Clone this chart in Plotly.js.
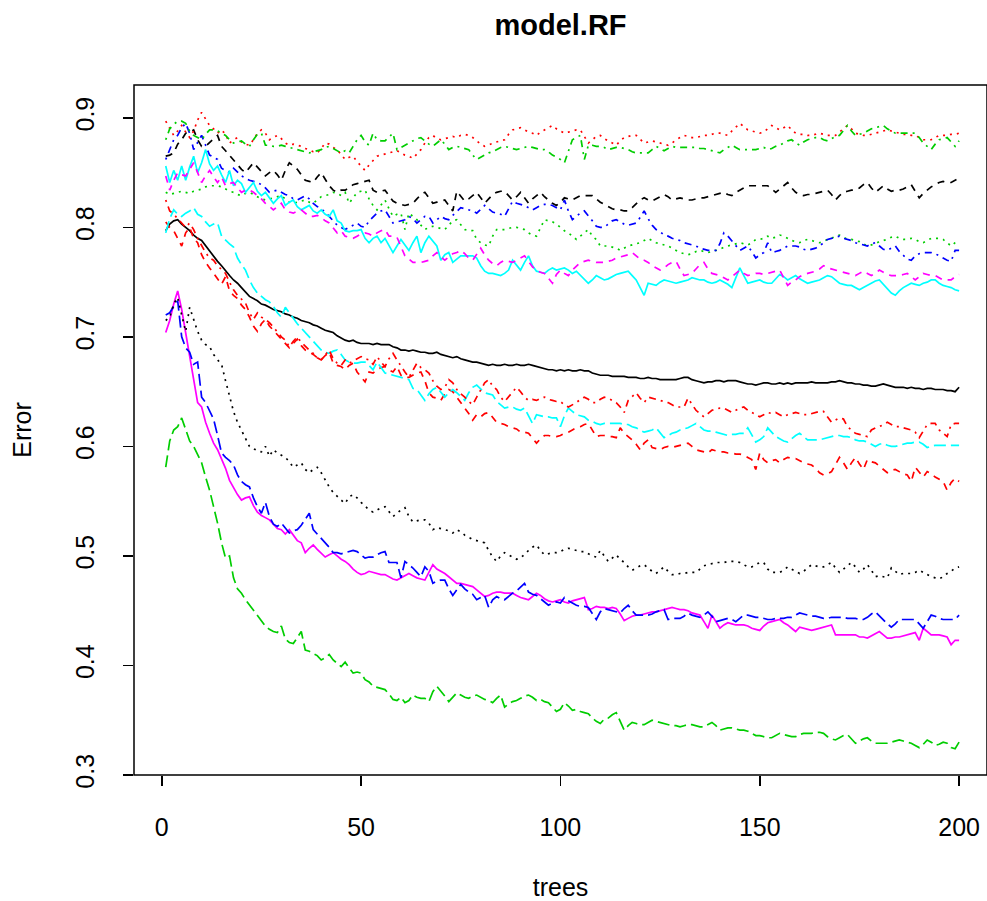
<!DOCTYPE html>
<html><head><meta charset="utf-8">
<script src="https://cdn.plot.ly/plotly-3.0.1.min.js"></script>
<style>html,body{margin:0;padding:0;background:#fff}#chart{width:987px;height:901px}</style>
</head><body><div id="chart"></div>
<script>
const trees = [1,2,3,4,5,6,7,8,9,10,11,12,13,14,15,16,17,18,19,20,
21,22,23,24,25,26,27,28,29,30,31,32,33,34,35,36,37,38,39,40,
41,42,43,44,45,46,47,48,49,50,51,52,53,54,55,56,57,58,59,60,
61,62,63,64,65,66,67,68,69,70,71,72,73,74,75,76,77,78,79,80,
81,82,83,84,85,86,87,88,89,90,91,92,93,94,95,96,97,98,99,100,
101,102,103,104,105,106,107,108,109,110,111,112,113,114,115,116,117,118,119,120,
121,122,123,124,125,126,127,128,129,130,131,132,133,134,135,136,137,138,139,140,
141,142,143,144,145,146,147,148,149,150,151,152,153,154,155,156,157,158,159,160,
161,162,163,164,165,166,167,168,169,170,171,172,173,174,175,176,177,178,179,180,
181,182,183,184,185,186,187,188,189,190,191,192,193,194,195,196,197,198,199,200];

const errOOB = [.797,.803,.806,.807,.803,.800,.797,.793,.790,.788,.783,.778,.773,.769,.765,.760,.756,.752,.749,.745,
.741,.737,.735,.733,.730,.729,.727,.725,.724,.723,.721,.720,.718,.717,.715,.714,.713,.711,.710,.708,
.706,.705,.704,.701,.699,.697,.696,.697,.695,.694,.694,.694,.693,.694,.693,.693,.693,.691,.690,.688,
.688,.687,.688,.687,.686,.686,.685,.685,.686,.684,.683,.682,.681,.682,.680,.679,.678,.677,.677,.676,
.675,.674,.675,.674,.674,.675,.674,.674,.675,.674,.674,.675,.674,.673,.672,.671,.670,.670,.669,.670,
.669,.670,.669,.669,.670,.669,.669,.667,.666,.665,.665,.665,.664,.664,.664,.664,.663,.663,.663,.662,
.662,.663,.662,.662,.661,.661,.661,.661,.661,.662,.663,.663,.661,.660,.659,.658,.659,.659,.660,.660,
.659,.660,.660,.660,.659,.658,.657,.657,.656,.657,.658,.658,.657,.657,.658,.657,.658,.657,.658,.658,
.658,.658,.659,.658,.658,.658,.658,.659,.659,.660,.659,.658,.658,.657,.657,.656,.656,.655,.655,.656,
.657,.656,.655,.654,.654,.654,.653,.654,.653,.653,.652,.653,.653,.652,.652,.652,.651,.651,.650,.654];

const errClass1 = [.805,.800,.797,.790,.783,.795,.800,.790,.786,.775,.768,.763,.758,.753,.748,.755,.742,.738,.735,.729,
.725,.718,.710,.705,.712,.716,.710,.706,.702,.699,.694,.690,.694,.698,.692,.688,.686,.684,.681,.679,
.683,.686,.676,.674,.673,.670,.674,.676,.668,.663,.659,.668,.667,.670,.672,.673,.670,.668,.673,.665,
.663,.663,.665,.667,.668,.660,.649,.645,.644,.642,.648,.652,.650,.645,.640,.636,.630,.624,.629,.627,
.630,.631,.626,.622,.621,.620,.618,.617,.616,.613,.613,.612,.608,.603,.607,.610,.610,.609,.609,.610,
.612,.613,.615,.617,.618,.620,.621,.615,.609,.610,.610,.609,.609,.608,.617,.612,.609,.606,.602,.597,
.603,.606,.599,.598,.597,.599,.600,.599,.600,.601,.602,.603,.600,.597,.596,.595,.594,.597,.596,.595,
.595,.594,.594,.593,.593,.592,.590,.588,.579,.594,.588,.585,.587,.588,.585,.588,.590,.589,.589,.587,
.585,.584,.583,.580,.576,.574,.575,.577,.583,.590,.585,.579,.585,.590,.584,.579,.588,.586,.585,.582,
.579,.576,.578,.579,.577,.575,.574,.568,.581,.576,.572,.577,.575,.572,.570,.568,.560,.567,.571,.568];

const errClass2 = [.832,.830,.831,.832,.833,.832,.831,.833,.834,.835,.837,.838,.838,.838,.837,.835,.833,.832,.830,.829,
.831,.832,.830,.828,.826,.825,.826,.827,.828,.829,.826,.823,.822,.823,.824,.825,.823,.822,.825,.828,
.829,.830,.832,.831,.829,.832,.822,.827,.832,.833,.834,.826,.820,.816,.820,.825,.817,.810,.812,.813,
.798,.813,.810,.807,.802,.798,.800,.801,.800,.799,.798,.802,.806,.807,.802,.798,.797,.797,.789,.786,
.784,.783,.792,.798,.798,.798,.799,.800,.800,.799,.798,.795,.793,.792,.799,.807,.806,.805,.803,.800,
.797,.795,.792,.789,.792,.795,.798,.792,.789,.783,.783,.783,.782,.781,.779,.781,.783,.784,.785,.786,
.788,.790,.788,.786,.785,.784,.783,.781,.779,.777,.776,.775,.776,.778,.779,.778,.777,.778,.779,.780,
.782,.783,.784,.785,.786,.785,.784,.786,.789,.789,.790,.792,.790,.791,.793,.792,.790,.788,.787,.786,
.788,.789,.788,.787,.786,.787,.789,.790,.792,.793,.791,.789,.789,.788,.787,.785,.783,.784,.785,.787,
.788,.789,.791,.792,.790,.789,.789,.790,.789,.787,.786,.788,.790,.790,.790,.789,.786,.783,.786,.789];

const errClass3 = [.862,.871,.880,.884,.891,.895,.886,.871,.878,.884,.875,.866,.864,.862,.854,.852,.850,.854,.850,.847,
.845,.843,.842,.841,.839,.836,.832,.833,.834,.832,.830,.829,.826,.825,.827,.829,.826,.822,.819,.817,
.814,.810,.806,.802,.800,.798,.800,.802,.804,.801,.800,.806,.810,.813,.815,.816,.810,.804,.805,.806,
.807,.810,.808,.804,.807,.810,.810,.804,.807,.810,.808,.807,.811,.815,.818,.817,.816,.815,.813,.817,
.820,.817,.814,.813,.812,.810,.817,.824,.822,.821,.820,.818,.816,.818,.820,.821,.821,.820,.818,.816,
.825,.815,.807,.810,.813,.815,.811,.806,.801,.800,.800,.803,.806,.807,.805,.803,.802,.803,.804,.809,
.815,.808,.802,.798,.796,.793,.792,.790,.789,.788,.786,.785,.784,.783,.781,.780,.779,.779,.779,.785,
.795,.792,.788,.783,.779,.781,.783,.778,.772,.775,.777,.786,.777,.778,.779,.781,.783,.783,.783,.782,
.780,.779,.780,.781,.783,.786,.789,.790,.791,.792,.790,.789,.788,.786,.785,.784,.783,.785,.786,.783,
.780,.779,.781,.783,.778,.774,.771,.770,.774,.776,.777,.777,.777,.776,.774,.772,.770,.769,.779,.779];

const errClass4 = [.795,.808,.816,.812,.810,.813,.815,.818,.812,.810,.805,.801,.803,.804,.792,.788,.785,.782,.772,.766,
.761,.752,.745,.740,.737,.734,.732,.728,.722,.718,.727,.722,.716,.712,.708,.704,.700,.696,.691,.688,
.686,.685,.687,.688,.684,.679,.677,.676,.676,.677,.677,.674,.670,.677,.672,.667,.666,.665,.664,.663,
.662,.661,.653,.652,.647,.642,.648,.652,.654,.650,.645,.649,.652,.649,.645,.642,.649,.654,.656,.652,
.649,.648,.647,.641,.638,.635,.636,.636,.634,.633,.635,.628,.621,.629,.628,.627,.627,.626,.626,.618,
.628,.635,.632,.629,.628,.627,.624,.623,.621,.620,.621,.621,.621,.621,.621,.620,.620,.618,.617,.615,
.613,.614,.615,.617,.612,.608,.610,.612,.613,.615,.616,.617,.619,.621,.618,.615,.614,.614,.613,.612,
.611,.610,.611,.611,.612,.612,.617,.610,.604,.606,.609,.617,.613,.609,.607,.605,.604,.607,.610,.612,
.609,.606,.606,.606,.606,.607,.608,.609,.610,.610,.609,.609,.608,.606,.605,.605,.604,.602,.600,.602,
.603,.601,.600,.600,.601,.602,.603,.603,.604,.604,.602,.599,.600,.601,.601,.601,.601,.601,.601,.601];

const errClass5 = [.704,.715,.730,.742,.725,.704,.685,.660,.640,.636,.622,.612,.603,.597,.588,.580,.569,.562,.556,.551,
.553,.554,.546,.540,.537,.535,.533,.529,.525,.524,.520,.524,.519,.514,.512,.503,.507,.510,.506,.502,
.499,.501,.503,.500,.497,.495,.492,.488,.485,.483,.484,.486,.485,.484,.483,.483,.481,.479,.478,.480,
.482,.484,.482,.480,.479,.478,.485,.492,.488,.486,.484,.481,.478,.475,.475,.474,.473,.472,.469,.466,
.463,.464,.466,.467,.467,.466,.466,.466,.464,.462,.461,.460,.463,.466,.464,.461,.459,.458,.459,.460,
.458,.457,.459,.460,.461,.462,.451,.452,.454,.453,.453,.452,.453,.452,.447,.441,.443,.445,.446,.446,
.447,.448,.449,.449,.450,.451,.452,.453,.452,.451,.451,.450,.448,.447,.446,.440,.434,.446,.440,.434,
.437,.439,.438,.437,.437,.437,.436,.434,.433,.432,.436,.439,.440,.441,.442,.439,.437,.434,.431,.435,
.434,.433,.432,.433,.434,.435,.436,.437,.428,.428,.428,.428,.428,.428,.426,.426,.425,.427,.429,.431,
.428,.425,.425,.426,.426,.427,.428,.429,.430,.423,.434,.431,.428,.428,.428,.427,.426,.419,.423,.423];

const errClass6 = [.865,.866,.868,.876,.880,.886,.887,.889,.880,.874,.874,.878,.881,.884,.874,.870,.866,.862,.857,.853,
.850,.855,.859,.855,.851,.847,.850,.852,.848,.843,.852,.859,.856,.853,.848,.843,.842,.841,.846,.850,
.844,.838,.834,.832,.834,.834,.836,.839,.840,.841,.842,.843,.834,.832,.833,.834,.829,.824,.822,.821,
.820,.821,.822,.826,.830,.832,.827,.822,.823,.824,.825,.820,.815,.833,.828,.824,.826,.829,.832,.827,
.822,.826,.830,.832,.833,.833,.829,.825,.828,.832,.827,.822,.826,.829,.832,.828,.825,.822,.820,.823,
.827,.826,.825,.827,.829,.829,.829,.829,.826,.823,.821,.819,.817,.816,.816,.815,.815,.818,.822,.825,
.827,.825,.824,.826,.828,.830,.828,.825,.826,.827,.826,.825,.825,.826,.827,.827,.828,.829,.830,.831,
.832,.830,.829,.832,.834,.836,.838,.838,.838,.838,.838,.838,.835,.832,.835,.838,.841,.836,.832,.830,
.829,.830,.830,.831,.832,.833,.834,.830,.825,.829,.832,.833,.834,.834,.836,.839,.841,.836,.832,.835,
.838,.835,.833,.834,.834,.835,.837,.839,.833,.827,.831,.834,.837,.839,.841,.842,.841,.841,.843,.845];

const errClass7 = [.897,.890,.884,.888,.893,.887,.882,.888,.898,.905,.899,.893,.890,.886,.889,.885,.877,.880,.882,.878,
.876,.875,.880,.886,.889,.886,.880,.882,.884,.881,.877,.875,.876,.875,.874,.872,.871,.869,.868,.872,
.877,.876,.873,.871,.866,.862,.864,.865,.860,.856,.852,.857,.861,.865,.866,.867,.868,.869,.870,.868,
.866,.865,.863,.867,.871,.877,.882,.884,.881,.880,.881,.882,.883,.882,.884,.885,.884,.882,.879,.876,
.874,.875,.877,.878,.879,.880,.885,.889,.890,.891,.889,.887,.886,.884,.887,.889,.891,.893,.890,.888,
.886,.887,.888,.889,.889,.883,.877,.880,.883,.884,.881,.879,.877,.875,.879,.882,.883,.884,.884,.880,
.877,.878,.879,.878,.877,.876,.875,.877,.880,.882,.884,.883,.882,.882,.883,.884,.884,.885,.886,.886,
.885,.884,.888,.892,.895,.892,.889,.888,.887,.886,.887,.890,.893,.891,.889,.891,.893,.889,.886,.885,
.885,.884,.884,.885,.886,.885,.884,.884,.884,.887,.890,.893,.890,.886,.885,.884,.884,.885,.886,.887,
.888,.889,.888,.887,.886,.885,.885,.884,.884,.882,.880,.880,.880,.882,.884,.884,.884,.885,.885,.886];

const errClass8 = [.880,.890,.894,.897,.897,.895,.888,.884,.882,.880,.885,.889,.889,.888,.886,.884,.880,.877,.878,.879,
.876,.874,.880,.885,.886,.875,.875,.874,.874,.875,.874,.873,.872,.871,.870,.869,.868,.869,.870,.871,
.873,.874,.872,.870,.868,.870,.868,.874,.880,.884,.878,.875,.886,.880,.879,.879,.883,.886,.871,.873,
.875,.877,.879,.881,.882,.879,.876,.874,.877,.880,.876,.871,.873,.874,.873,.872,.871,.866,.862,.864,
.866,.868,.869,.871,.873,.874,.873,.872,.871,.872,.873,.874,.873,.872,.871,.871,.869,.866,.864,.862,
.859,.870,.880,.882,.884,.862,.875,.875,.874,.874,.873,.871,.872,.873,.873,.872,.871,.869,.868,.868,
.868,.868,.871,.874,.872,.870,.872,.874,.873,.873,.873,.873,.873,.873,.872,.872,.871,.870,.869,.868,
.871,.873,.875,.873,.871,.871,.871,.871,.871,.872,.873,.871,.872,.874,.875,.877,.879,.880,.877,.875,
.878,.880,.881,.882,.882,.880,.879,.881,.883,.884,.889,.893,.888,.884,.885,.886,.888,.890,.891,.892,
.893,.890,.888,.886,.886,.886,.886,.886,.886,.882,.877,.874,.871,.876,.880,.881,.882,.878,.874,.879];

const errClass9 = [.720,.722,.728,.733,.700,.690,.686,.675,.677,.645,.640,.633,.625,.610,.594,.590,.587,.583,.574,.568,
.565,.563,.553,.545,.539,.549,.536,.529,.527,.530,.526,.521,.523,.524,.528,.533,.539,.524,.520,.517,
.513,.508,.503,.503,.502,.503,.504,.505,.504,.501,.498,.499,.499,.501,.503,.504,.494,.494,.494,.480,
.495,.492,.489,.485,.481,.490,.486,.475,.477,.478,.478,.470,.464,.469,.474,.470,.467,.465,.460,.462,
.464,.453,.460,.463,.461,.460,.463,.466,.468,.472,.475,.467,.465,.464,.461,.458,.455,.457,.458,.457,
.462,.459,.457,.455,.454,.454,.453,.447,.442,.449,.452,.451,.450,.449,.448,.452,.455,.450,.446,.446,
.446,.446,.447,.449,.450,.451,.442,.443,.443,.443,.445,.448,.446,.445,.444,.446,.449,.445,.440,.441,
.442,.443,.442,.440,.443,.446,.446,.445,.444,.444,.443,.442,.442,.443,.443,.443,.444,.444,.446,.448,
.447,.446,.445,.445,.444,.443,.443,.444,.444,.444,.444,.443,.443,.443,.442,.442,.444,.447,.449,.445,
.442,.438,.435,.438,.442,.442,.442,.442,.442,.438,.434,.440,.446,.445,.443,.442,.442,.442,.442,.446];

const errClass10 = [.856,.841,.852,.843,.856,.843,.855,.865,.850,.859,.871,.858,.852,.856,.848,.841,.852,.838,.843,.840,
.832,.837,.841,.833,.829,.832,.827,.822,.826,.829,.820,.823,.825,.819,.816,.818,.820,.815,.813,.816,
.812,.810,.816,.806,.804,.797,.796,.797,.797,.798,.790,.786,.790,.792,.786,.790,.784,.777,.783,.789,
.784,.779,.786,.792,.777,.786,.792,.787,.783,.770,.775,.777,.768,.771,.774,.774,.774,.774,.772,.765,
.760,.758,.758,.757,.756,.758,.761,.770,.765,.761,.768,.774,.765,.760,.759,.758,.761,.763,.761,.762,
.763,.761,.758,.760,.756,.752,.749,.752,.756,.754,.752,.753,.755,.757,.758,.759,.760,.756,.752,.745,
.738,.749,.748,.747,.750,.752,.751,.750,.749,.750,.751,.752,.754,.753,.752,.752,.750,.749,.750,.752,
.750,.748,.745,.754,.763,.756,.749,.750,.751,.752,.750,.749,.749,.753,.757,.755,.752,.754,.756,.753,
.751,.749,.750,.751,.752,.754,.756,.755,.752,.749,.748,.747,.747,.745,.743,.745,.747,.749,.751,.752,
.748,.744,.740,.738,.742,.745,.747,.749,.748,.747,.749,.750,.752,.752,.749,.747,.746,.745,.743,.742];

const errClass11 = [.847,.834,.843,.850,.848,.847,.853,.859,.850,.841,.847,.852,.846,.841,.846,.838,.840,.841,.836,.832,
.834,.834,.832,.829,.826,.822,.819,.816,.819,.822,.816,.814,.813,.815,.816,.813,.810,.810,.811,.809,
.806,.804,.800,.795,.797,.792,.791,.790,.792,.794,.795,.794,.792,.795,.797,.798,.792,.792,.791,.782,
.774,.771,.768,.768,.768,.769,.770,.774,.777,.773,.770,.773,.776,.777,.779,.776,.772,.770,.776,.781,
.775,.770,.767,.765,.768,.770,.769,.768,.770,.772,.774,.769,.764,.761,.759,.758,.753,.749,.757,.761,
.758,.756,.761,.765,.768,.769,.770,.769,.768,.768,.768,.769,.770,.772,.773,.774,.775,.777,.774,.771,
.770,.768,.765,.763,.761,.763,.766,.768,.769,.762,.756,.757,.758,.762,.766,.768,.762,.758,.757,.756,
.754,.752,.755,.758,.761,.758,.756,.757,.758,.758,.757,.758,.759,.760,.761,.754,.747,.750,.752,.755,
.757,.758,.759,.760,.762,.765,.763,.762,.761,.760,.759,.758,.757,.756,.758,.760,.758,.756,.758,.761,
.759,.757,.756,.756,.756,.757,.758,.755,.752,.755,.758,.757,.756,.756,.754,.752,.752,.752,.755,.757];

const errClass12 = [.715,.718,.730,.736,.720,.705,.727,.716,.705,.697,.693,.691,.684,.679,.675,.660,.645,.632,.622,.615,
.607,.600,.598,.596,.595,.600,.591,.597,.594,.592,.590,.586,.581,.583,.585,.579,.576,.579,.581,.576,
.569,.563,.558,.554,.551,.548,.554,.556,.553,.549,.545,.542,.540,.542,.544,.545,.540,.536,.539,.542,
.544,.536,.531,.532,.533,.533,.530,.524,.526,.525,.524,.523,.521,.524,.522,.519,.517,.515,.514,.513,
.512,.505,.499,.495,.500,.503,.501,.499,.497,.498,.502,.505,.508,.510,.505,.501,.502,.503,.503,.504,
.506,.507,.506,.505,.504,.504,.502,.500,.499,.505,.500,.495,.498,.501,.497,.494,.490,.487,.489,.491,
.492,.489,.486,.484,.487,.490,.486,.483,.483,.484,.484,.485,.485,.485,.488,.491,.492,.493,.494,.494,
.494,.495,.495,.495,.494,.492,.490,.490,.492,.494,.494,.488,.485,.485,.485,.487,.490,.488,.486,.484,
.486,.489,.492,.491,.490,.490,.492,.494,.489,.485,.488,.491,.494,.490,.485,.488,.492,.487,.481,.482,
.481,.480,.489,.486,.483,.484,.484,.484,.485,.487,.485,.483,.481,.480,.479,.481,.484,.486,.489,.490];

const errClass13 = [.825,.815,.812,.808,.804,.800,.804,.798,.790,.783,.777,.772,.770,.765,.761,.758,.750,.743,.738,.734,
.731,.722,.716,.722,.718,.716,.713,.709,.704,.700,.697,.691,.696,.700,.695,.691,.688,.685,.681,.679,
.684,.688,.680,.676,.674,.679,.676,.678,.680,.682,.680,.679,.675,.682,.677,.673,.680,.685,.679,.673,
.668,.663,.670,.676,.672,.670,.667,.660,.655,.652,.654,.661,.658,.652,.648,.645,.641,.638,.645,.652,
.658,.661,.655,.652,.645,.641,.645,.650,.654,.650,.645,.642,.643,.642,.644,.645,.643,.642,.641,.641,
.638,.636,.638,.640,.643,.645,.643,.640,.640,.643,.645,.644,.642,.640,.636,.631,.642,.646,.649,.644,
.640,.645,.644,.643,.642,.641,.640,.638,.636,.636,.636,.644,.638,.633,.630,.627,.630,.633,.634,.635,
.635,.633,.631,.633,.635,.636,.633,.631,.629,.627,.629,.631,.630,.631,.629,.627,.629,.630,.631,.630,
.629,.629,.630,.631,.632,.632,.627,.622,.624,.626,.625,.618,.615,.612,.611,.610,.609,.615,.617,.618,
.620,.622,.620,.618,.618,.617,.616,.615,.613,.608,.614,.620,.621,.621,.615,.612,.609,.620,.621,.621];

const errClass14 = [.581,.605,.615,.618,.626,.615,.605,.600,.592,.585,.572,.560,.545,.530,.512,.498,.500,.480,.470,.466,
.460,.455,.450,.446,.441,.436,.433,.431,.430,.436,.424,.421,.420,.425,.431,.414,.413,.411,.409,.405,
.407,.410,.405,.402,.399,.403,.398,.393,.394,.393,.387,.385,.381,.380,.379,.378,.374,.369,.368,.371,
.366,.368,.373,.371,.370,.370,.367,.376,.381,.377,.372,.367,.371,.375,.373,.371,.370,.372,.373,.371,
.369,.368,.366,.370,.373,.362,.365,.367,.368,.370,.372,.373,.371,.368,.369,.367,.366,.362,.358,.360,
.366,.363,.359,.360,.358,.357,.356,.352,.349,.347,.351,.352,.355,.357,.349,.341,.345,.348,.347,.346,
.346,.348,.350,.349,.348,.347,.346,.345,.345,.344,.345,.346,.346,.345,.344,.344,.346,.348,.345,.341,
.342,.343,.343,.342,.341,.341,.340,.338,.336,.336,.335,.334,.334,.336,.338,.337,.336,.335,.335,.337,
.338,.338,.338,.339,.339,.338,.335,.333,.332,.334,.336,.337,.333,.329,.331,.333,.334,.331,.329,.329,
.329,.329,.330,.331,.332,.331,.330,.329,.327,.325,.328,.332,.330,.327,.328,.330,.329,.325,.324,.330];

const seriesNames = ['OOB','1','2','3','4','5','6','7','8','9','10','11','12','13','14'];
const seriesData = [errOOB, errClass1, errClass2, errClass3, errClass4, errClass5, errClass6, errClass7,
  errClass8, errClass9, errClass10, errClass11, errClass12, errClass13, errClass14];
const xTicks = [0, 50, 100, 150, 200];
const yTicks = [0.3, 0.4, 0.5, 0.6, 0.7, 0.8, 0.9];
const yTickText = ['0.3', '0.4', '0.5', '0.6', '0.7', '0.8', '0.9'];

// R default palette (col = 1:6) and line types (lty = 1:5)
const lineColors = ['#000000', '#FF0000', '#00CD00', '#0000FF', '#00FFFF', '#FF00FF'];
const lineDashes = ['solid', '7px,6px', '2px,5px', '2px,5px,7px,5px', '12px,5px'];

const traces = seriesData.map((y, i) => ({
  x: trees, y: y, type: 'scatter', mode: 'lines', name: seriesNames[i],
  line: {color: lineColors[i % 6], dash: lineDashes[i % 5], width: 1.7}
}));

const FONT = 'Liberation Sans, Arial, Helvetica, sans-serif';
const layout = {
  width: 987, height: 901,
  margin: {l: 134, r: 0, t: 85, b: 126, pad: 0},
  paper_bgcolor: '#ffffff', plot_bgcolor: '#ffffff',
  showlegend: false,
  font: {family: FONT, color: '#000000', size: 25},
  title: {text: '<b>model.RF</b>', font: {family: FONT, size: 29, color: '#000'},
          x: 0.5, xref: 'paper', xanchor: 'center', y: 0.972, yref: 'container', yanchor: 'middle'},
  xaxis: {range: [-6.96, 207.0], tickvals: xTicks, ticktext: xTicks.map(String),
          ticks: 'outside', ticklen: 10, tickwidth: 1.5, tickcolor: '#000',
          showgrid: false, zeroline: false, showline: false, automargin: false,
          tickfont: {size: 25}, ticklabelstandoff: 20,
          title: {text: 'trees', font: {size: 25}, standoff: 40}},
  yaxis: {range: [0.3, 0.93], tickvals: yTicks, ticktext: yTickText, tickangle: -90,
          ticks: 'outside', ticklen: 10, tickwidth: 1.5, tickcolor: '#000',
          showgrid: false, zeroline: false, showline: false, automargin: false,
          tickfont: {size: 25}, ticklabelstandoff: 19,
          title: {text: 'Error', font: {size: 25}, standoff: 32}},
  shapes: [{type: 'rect', xref: 'paper', yref: 'paper', x0: 0, x1: 1, y0: 0, y1: 1,
            line: {color: '#000', width: 1.5}, layer: 'above'}]
};

Plotly.newPlot('chart', traces, layout, {displayModeBar: false, staticPlot: true});
</script>
</body></html>
